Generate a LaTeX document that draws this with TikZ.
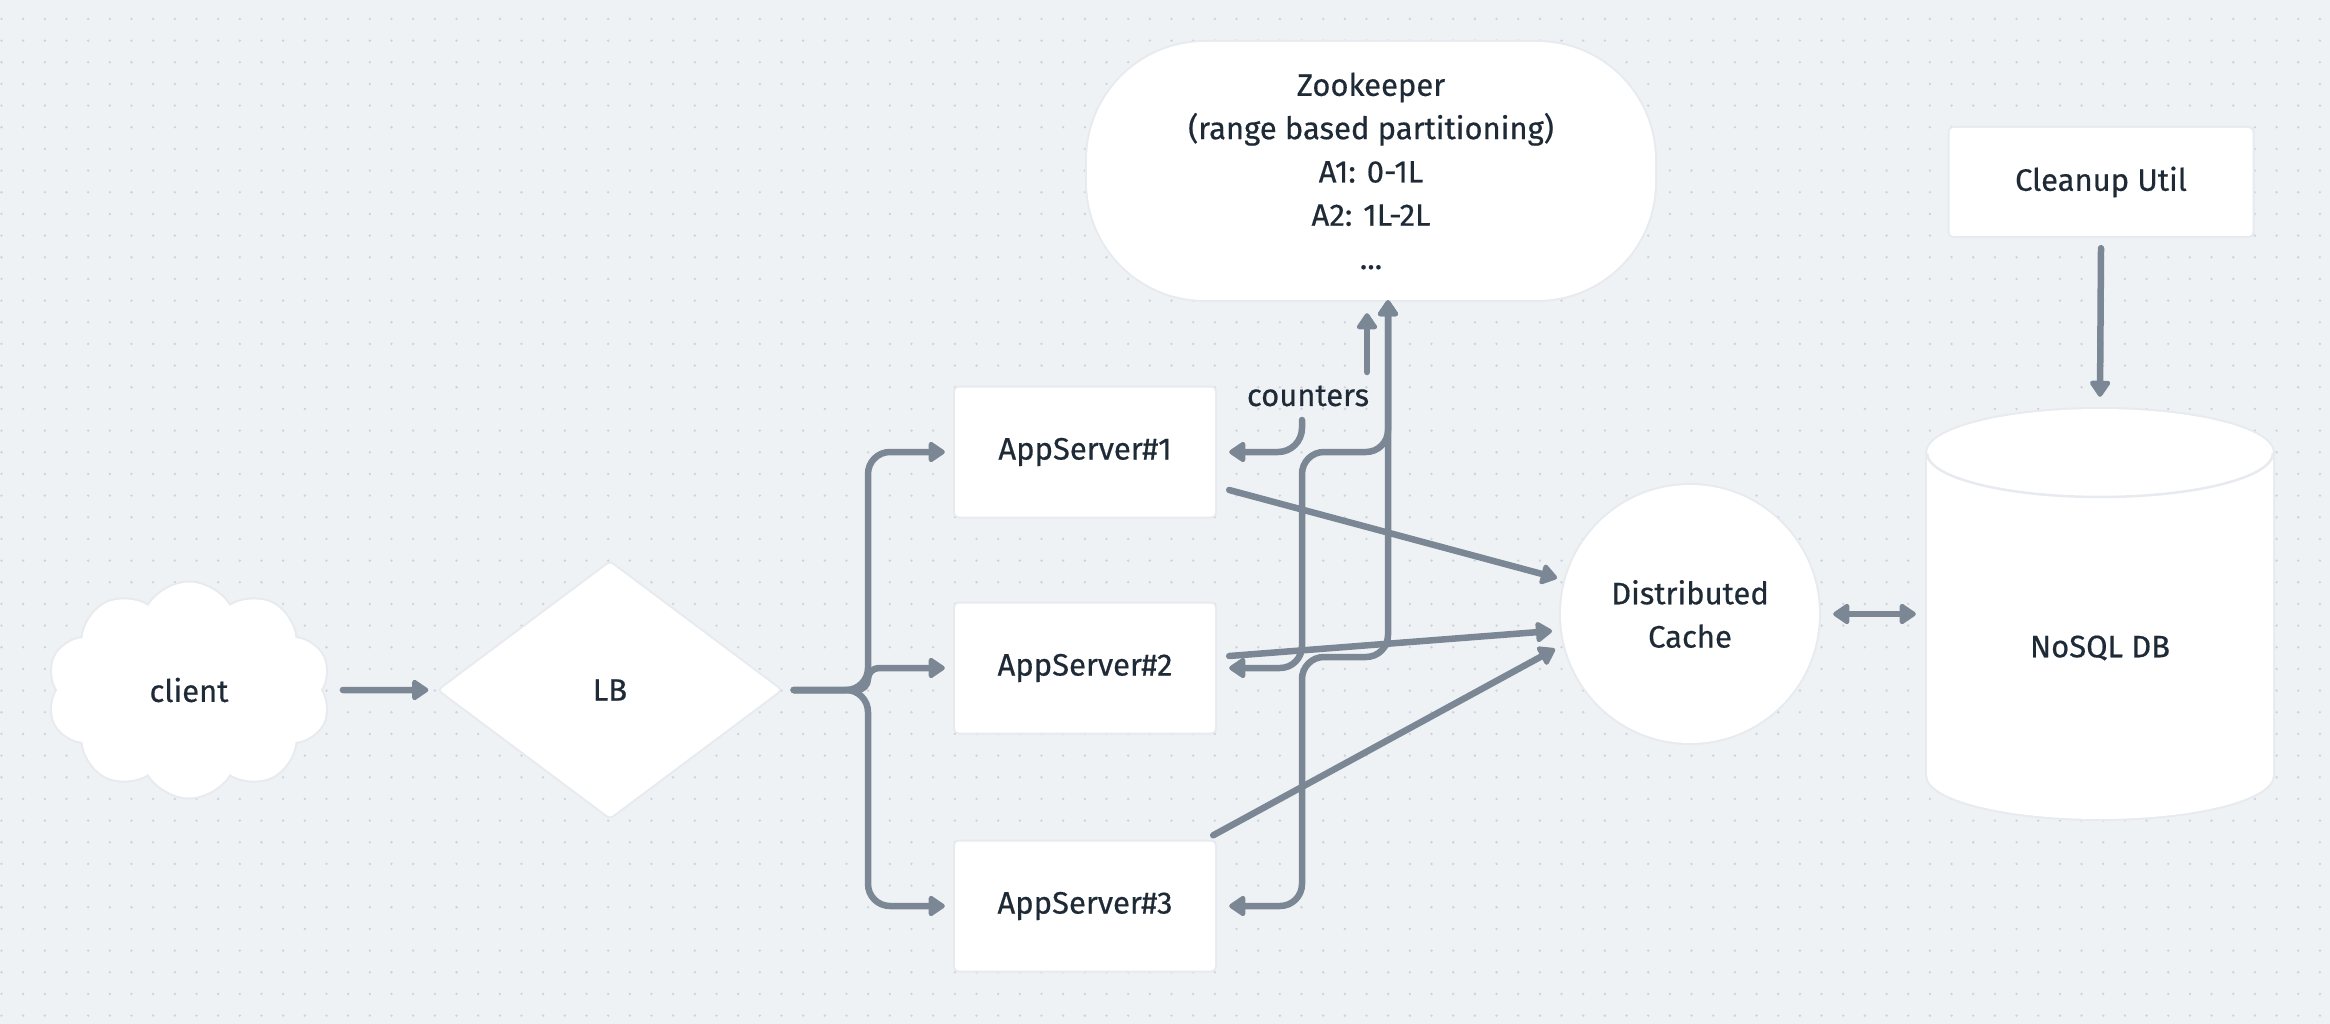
\documentclass[tikz,border=0pt]{standalone}
\usepackage{fontspec}
\setmainfont{Fira Sans}[UprightFeatures={FakeBold=0.5}]
\usetikzlibrary{arrows.meta,shapes.geometric,shapes.symbols,calc}
\definecolor{bg}{HTML}{EFF2F5}
\definecolor{dotc}{HTML}{CBD2DC}
\definecolor{linec}{HTML}{7B8794}
\definecolor{txt}{HTML}{1F2A37}
\definecolor{glowc}{HTML}{E7EAEE}
\begin{document}
\begin{tikzpicture}[x=1pt,y=-1pt,
  every node/.style={font=\fontsize{31}{43.3}\selectfont, text=txt},
  glow/.style={preaction={draw=glowc,line width=4pt}},
  box/.style={rectangle, fill=white, rounded corners=4pt, glow, minimum width=260pt, minimum height=129pt, inner sep=0pt},
  conn/.style={draw=linec, line width=6.5pt, line cap=round, line join=round},
  arr/.style={conn, -{Triangle[length=18pt,width=23pt,round]}},
  biarr/.style={conn, {Triangle[length=18pt,width=23pt,round]}-{Triangle[length=18pt,width=23pt,round]}}
]
\useasboundingbox (0,0) rectangle (2330,1024);
\fill[bg] (0,0) rectangle (2330,1024);
\foreach \i in {0,...,107} {\foreach \j in {0,...,46} {\fill[dotc] (1.5+21.667*\i, 18.9+21.667*\j) circle (1.3pt);}}

% nodes
\node[cloud, cloud puffs=10, cloud puff arc=120, aspect=1.3, fill=white, glow, minimum width=282pt, minimum height=215pt, inner sep=0pt] (client) at (189,690) {client};
\node[diamond, fill=white, glow, rounded corners=3pt, minimum width=341pt, minimum height=255pt, inner sep=0pt] (lb) at (610,690) {LB};
\node[box] (as1) at (1085,452) {AppServer\#1};
\node[box] (as2) at (1085,668) {AppServer\#2};
\node[box] (as3) at (1085,906) {AppServer\#3};
\node[rectangle, fill=white, glow, rounded corners=118pt, minimum width=568pt, minimum height=258pt, align=center, inner sep=0pt] (zk) at (1371,171)
  {Zookeeper\\(range based partitioning)\\A1: 0-1L\\A2: 1L-2L\\...};
\node[circle, fill=white, glow, minimum size=258pt, inner sep=0pt, align=center] (cache) at (1690,614) {Distributed\\Cache};
\node[box, minimum width=303pt, minimum height=108pt] (cleanup) at (2101,182) {Cleanup Util};

% cylinder
\node[rectangle, minimum width=346pt, minimum height=410pt, inner sep=0pt] (db) at (2100,614) {};
\path[glow, fill=white] (1927,453) -- (1927,775) arc[start angle=180, end angle=0, x radius=173, y radius=44]
  -- (2273,453) arc[start angle=0, end angle=-180, x radius=173, y radius=44] -- cycle;
\draw[glowc, line width=2.5pt] (1927,453) arc[start angle=180, end angle=0, x radius=173, y radius=44];
\node (dbtext) at (2100,648) {NoSQL DB};

\node (counters) at (1308,396) {counters};

% connectors
\draw[arr] ([xshift=22pt]client.east) -- ([xshift=-11pt]lb.west);
\coordinate (lbout) at ([xshift=13pt]lb.east);
\coordinate (br) at (868,690);
\draw[arr, rounded corners=22pt] (lbout) -- (br) |- ([xshift=-10pt]as1.west);
\draw[arr, rounded corners=11pt] (lbout) -- (br) |- ([xshift=-10pt]as2.west);
\draw[arr, rounded corners=22pt] (lbout) -- (br) |- ([xshift=-10pt]as3.west);

\coordinate (cA) at (1302,420);
\coordinate (cB) at (1367,372);
\draw[arr, rounded corners=24pt] (cA) |- ([xshift=14pt]as1.east);
\draw[arr] (cB) -- ([xshift=-4pt,yshift=-13pt]zk.south);

\coordinate (zkin) at ([xshift=17pt]zk.south);
\coordinate (j1) at (1302,452);
\coordinate (j2) at (1302,657);
\draw[biarr, rounded corners=22pt] ([xshift=14pt]as2.east) -| (j1) -| (zkin);
\draw[biarr, rounded corners=22pt] ([xshift=14pt]as3.east) -| (j2) -| (zkin);

\draw[arr] ([xshift=14pt,yshift=-38pt]as1.east) -- ($(cache.center)+(-133,-36)$);
\draw[arr] ([xshift=14pt,yshift=12pt]as2.east) -- ($(cache.center)+(-138,17)$);
\draw[arr] ([xshift=-2pt,yshift=6pt]as3.north east) -- ($(cache.center)+(-135,35)$);

\draw[biarr] ([xshift=14pt]cache.east) -- ([xshift=-11pt]db.west);
\draw[arr] ([yshift=-12pt]cleanup.south) -- ([yshift=12pt]db.north);
\end{tikzpicture}
\end{document}
